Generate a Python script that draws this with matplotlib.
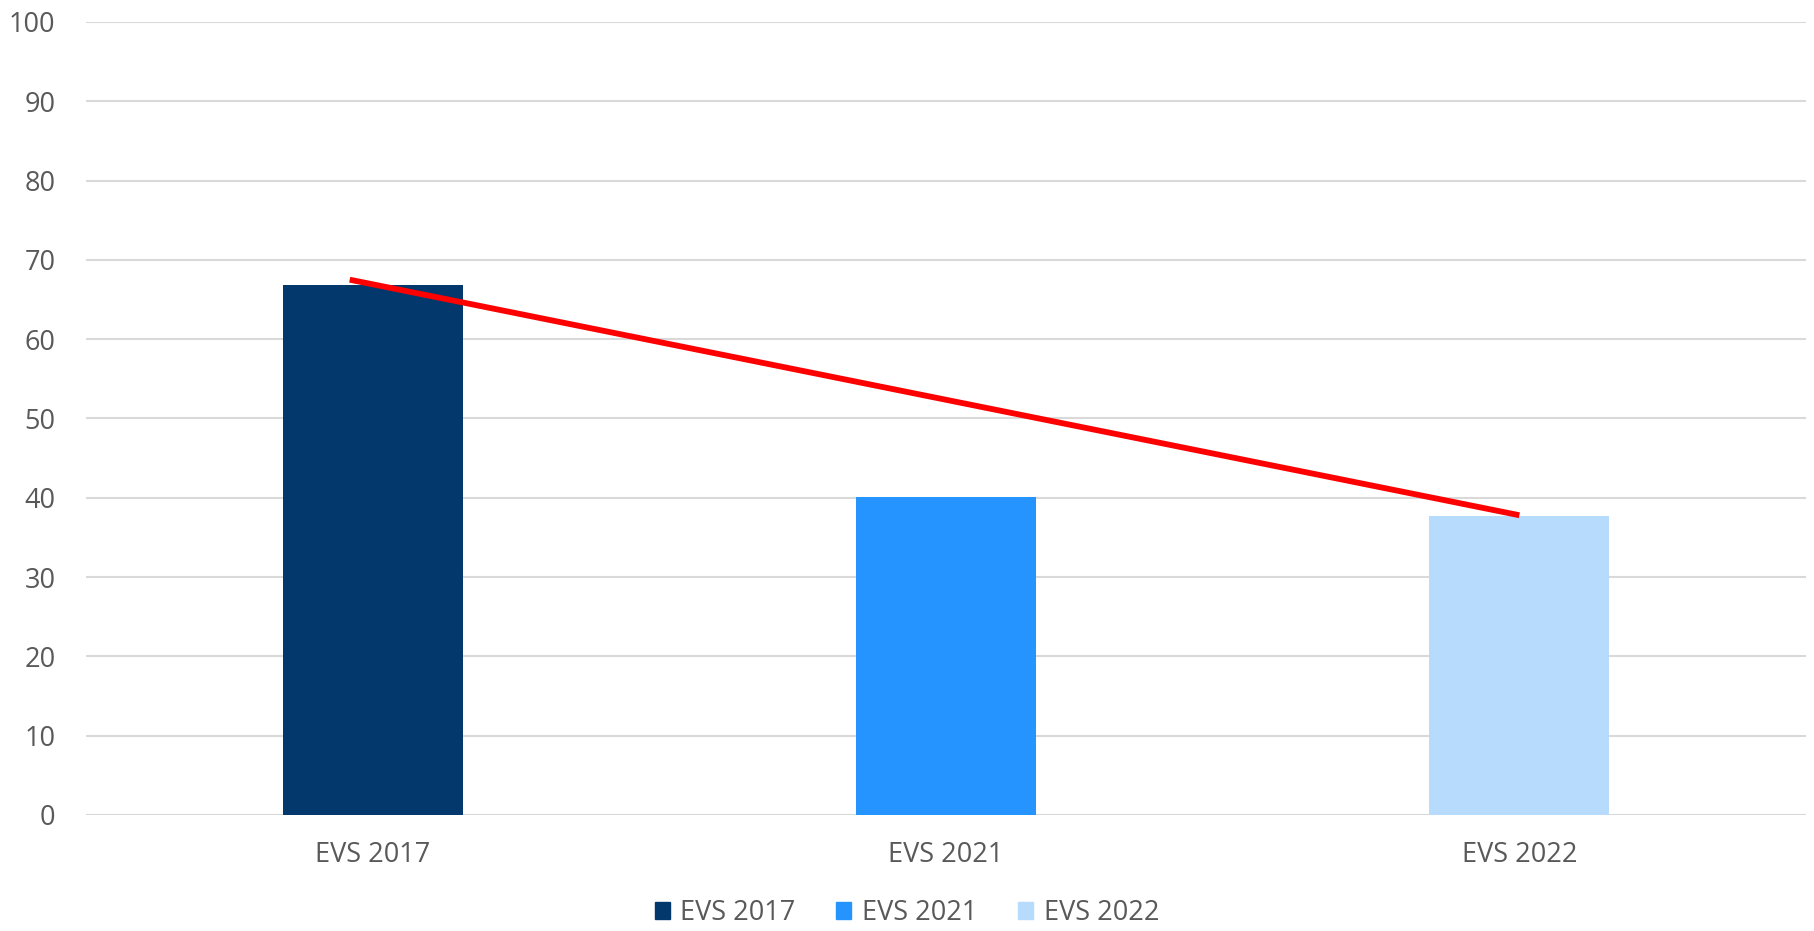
import matplotlib.pyplot as plt
import matplotlib.patheffects as pe

# Data
categories = ['EVS 2017', 'EVS 2021', 'EVS 2022']
values = [66.8, 40.1, 37.7]
colors = ['#02386b', '#2594ff', '#b6dbfd']

# Red trend line, drawn from just left of the first bar centre to the third
line_x = [-0.04, 2.0]
line_y = [67.5, 37.8]

plt.rcParams['font.family'] = ['Open Sans', 'DejaVu Sans']
text_color = '#595959'

fig = plt.figure(figsize=(18.14, 9.31), dpi=100)
ax = fig.add_axes([0.0474, 0.1246, 0.9482, 0.8518])

x = range(len(categories))
ax.bar(x, values, width=0.314, color=colors, zorder=2)

ax.plot(line_x, line_y, color='#ff0000', linewidth=4.2, solid_capstyle='butt', zorder=3,
        path_effects=[pe.SimplePatchShadow(offset=(2, -3), shadow_rgbFace='#555555', alpha=0.35),
                      pe.Normal()])

ax.set_xlim(-0.5, 2.5)
ax.set_ylim(0, 100)
ax.set_yticks(range(0, 101, 10))
ax.set_xticks(list(x))
ax.set_xticklabels(categories)
ax.yaxis.grid(True, color='#d9d9d9', linewidth=1.5, zorder=0)
ax.set_axisbelow(True)
for s in ax.spines.values():
    s.set_visible(False)
ax.tick_params(axis='both', length=0, labelsize=19.5, colors=text_color)
ax.tick_params(axis='y', pad=22)
ax.tick_params(axis='x', pad=19)

handles = [plt.Rectangle((0, 0), 1, 1, color=c) for c in colors]
leg = fig.legend(handles, categories, loc='lower center', bbox_to_anchor=(0.5, 0.0),
                 ncol=3, frameon=False, fontsize=19.5, handlelength=0.55, handleheight=0.55,
                 handletextpad=0.4, columnspacing=1.5, borderpad=0.05, borderaxespad=0.1)
for t in leg.get_texts():
    t.set_color(text_color)

fig.savefig('out.png', dpi=100, facecolor='white')
